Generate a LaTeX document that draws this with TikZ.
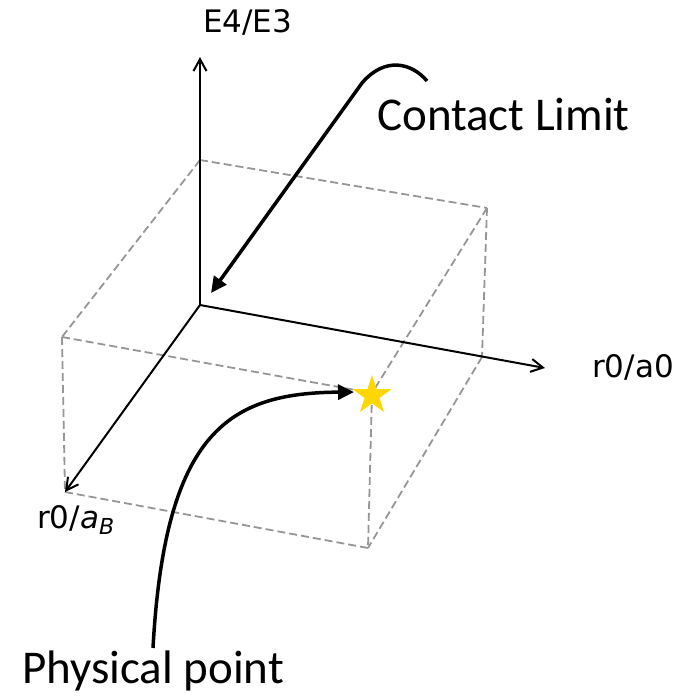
\documentclass[tikz,border=0pt]{standalone}
\usepackage{fontspec}
\setmainfont{Carlito}
\newfontfamily\axfont{DejaVu Sans}
\usetikzlibrary{arrows.meta,shapes.geometric}
\definecolor{edgegray}{RGB}{150,150,150}
\definecolor{stargold}{RGB}{255,215,0}
\tikzset{
  axisline/.style={line width=2pt,black,-{Straight Barb[length=12pt,width=13pt,line width=2pt]}},
  boxedge/.style={edgegray,line width=1.8pt,dash pattern=on 8pt off 4pt},
  callout/.style={line width=3.5pt,black,-{Triangle[length=16pt,width=15pt]}},
  axlabel/.style={inner sep=0pt,anchor=base west,font=\axfont\fontsize{31}{31}\selectfont},
  bigtext/.style={inner sep=0pt,anchor=base west,font=\fontsize{47}{47}\selectfont},
}
\begin{document}
\begin{tikzpicture}[x=1pt,y=-1pt]
\useasboundingbox (0,0) rectangle (679,699);
% box vertices
\coordinate (A) at (200,160);
\coordinate (B) at (487,208);
\coordinate (C) at (372,393);
\coordinate (D) at (62,337);
\coordinate (O) at (200,305);
\coordinate (Rb) at (482,357);
\coordinate (F) at (368,548);
\coordinate (L) at (65,492);
\coordinate (Ztip) at (200,57);
\coordinate (Xtip) at (545,368);
% dashed box
\draw[boxedge] (A) -- (B);
\draw[boxedge] (A) -- (D);
\draw[boxedge] (D) -- (C);
\draw[boxedge] (B) -- (C);
\draw[boxedge] (B) -- (Rb);
\draw[boxedge] (Rb) -- (F);
\draw[boxedge] (C) -- (F);
\draw[boxedge] (D) -- (L);
\draw[boxedge] (L) -- (F);
% axes
\draw[axisline] (O) -- (Ztip);
\draw[axisline] (O) -- (Xtip);
\draw[axisline] (O) -- (L);
% labels
\node[axlabel] (ze) at (203,32) {E4/E3};
\node[axlabel] (xe) at (592,377) {r0/a0};
\node[axlabel] (ye) at (37,528) {r0/\textit{a}\raisebox{-6pt}{\fontsize{22}{22}\selectfont\itshape B}};
% star
\node[star,star points=5,star point ratio=2.618,minimum size=41pt,inner sep=0pt,fill=stargold,draw=none] (star) at (372,395.5) {};
% callouts
\node[bigtext] (contact) at (377,130) {Contact Limit};
\node[bigtext] (phys) at (22,683) {Physical point};
\coordinate (clstart) at (427,81);
\coordinate (cltip) at (211,293);
\coordinate (ppstart) at (153,648);
\coordinate (pptip) at (354,392);
\draw[callout] (clstart) .. controls (412,63) and (385,56) .. (362,83) -- (cltip);
\draw[callout] (ppstart) .. controls (165,430) and (230,393) .. (pptip);
\end{tikzpicture}
\end{document}
